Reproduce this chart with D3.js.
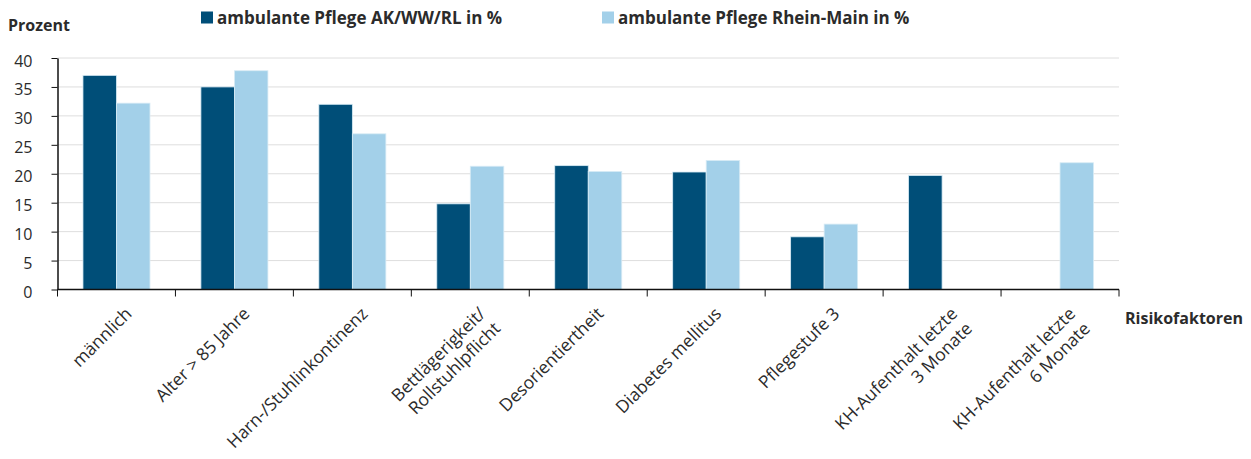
<!DOCTYPE html>
<html>
<head>
<meta charset="utf-8">
<script src="https://cdn.jsdelivr.net/npm/d3@7"></script>
<style>
  body { margin: 0; background: #fff; }
  text { font-family: "Open Sans", Lato, sans-serif; fill: #2b2b2b; }
</style>
</head>
<body>
<script>
const categories = [
  ["männlich"],
  ["Alter > 85 Jahre"],
  ["Harn-/Stuhlinkontinenz"],
  ["Bettlägerigkeit/", "Rollstuhlpflicht"],
  ["Desorientiertheit"],
  ["Diabetes mellitus"],
  ["Pflegestufe 3"],
  ["KH-Aufenthalt letzte", "3 Monate"],
  ["KH-Aufenthalt letzte", "6 Monate"]
];
const seriesNames = ["ambulante Pflege AK/WW/RL in %", "ambulante Pflege Rhein-Main in %"];
const akValues = [37.0, 35.0, 32.0, 14.8, 21.4, 20.3, 9.1, 19.7, null];
const rmValues = [32.2, 37.8, 26.9, 21.3, 20.4, 22.3, 11.3, null, 21.9];
const yTicks = [0, 5, 10, 15, 20, 25, 30, 35, 40];
const colors = ["#004e78", "#a3d0e9"];

const width = 1251, height = 459;
const margin = { left: 57.5, right: 132, top: 58, bottom: 169.5 };

const svg = d3.select("body").append("svg")
  .attr("width", width).attr("height", height);

const x = d3.scaleBand()
  .domain(d3.range(categories.length))
  .range([margin.left, width - margin.right])
  .paddingInner(0).paddingOuter(0);

const xInner = d3.scaleBand()
  .domain([0, 1])
  .range([0, x.bandwidth()])
  .paddingOuter(0.76).paddingInner(0);

const y = d3.scaleLinear()
  .domain([0, 40])
  .range([height - margin.bottom, margin.top]);

// gridlines
svg.append("g")
  .selectAll("line")
  .data(yTicks.slice(1))
  .join("line")
  .attr("x1", margin.left).attr("x2", width - margin.right)
  .attr("y1", d => y(d)).attr("y2", d => y(d))
  .attr("stroke", "#dedede").attr("stroke-width", 1);

// bars
const series = [akValues, rmValues];
series.forEach((vals, si) => {
  svg.append("g")
    .selectAll("rect")
    .data(vals.map((v, i) => ({ v, i })).filter(d => d.v != null))
    .join("rect")
    .attr("x", d => x(d.i) + xInner(si))
    .attr("y", d => y(d.v))
    .attr("width", xInner.bandwidth())
    .attr("height", d => y(0) - y(d.v))
    .attr("fill", colors[si])
    .attr("stroke", "#d8ebf5").attr("stroke-width", 0.8);
});

// y axis
const yAxis = svg.append("g")
  .attr("transform", `translate(${margin.left},0)`)
  .call(d3.axisLeft(y).tickValues(yTicks).tickSize(6).tickPadding(19).tickSizeOuter(0));
yAxis.select(".domain").attr("stroke", "#111").attr("stroke-width", 1.5);
yAxis.selectAll(".tick line").attr("stroke", "#111");
yAxis.selectAll(".tick text")
  .attr("dy", "0.5em")
  .style("font-size", "16px")
  .attr("fill", "#2b2b2b")
  .style("font-family", "'Open Sans', sans-serif");

// x axis
const xTickPos = d3.range(categories.length + 1).map(i => margin.left + i * x.step());
const xg = svg.append("g");
xg.append("line")
  .attr("x1", margin.left).attr("x2", width - margin.right)
  .attr("y1", y(0)).attr("y2", y(0))
  .attr("stroke", "#111").attr("stroke-width", 1.5);
xg.selectAll("line.t")
  .data(xTickPos)
  .join("line").attr("class", "t")
  .attr("x1", d => d).attr("x2", d => d)
  .attr("y1", y(0)).attr("y2", y(0) + 7)
  .attr("stroke", "#111");

// x labels
const labels = svg.append("g")
  .selectAll("text")
  .data(categories)
  .join("text")
  .attr("transform", (d, i) => `translate(${x(i) + x.bandwidth() / 2 + 12},${y(0) + 21}) rotate(-45)`)
  .attr("text-anchor", "end")
  .style("font-size", "17.5px");
labels.selectAll("tspan")
  .data(d => d.map((t, k) => ({ t, k })))
  .join("tspan")
  .attr("x", 0)
  .attr("dy", d => d.k === 0 ? "0.35em" : "1.2em")
  .text(d => d.t);

// axis titles
svg.append("text")
  .attr("x", 8).attr("y", 31)
  .style("font-size", "16px").style("font-weight", "bold")
  .text("Prozent");
svg.append("text")
  .attr("x", 1125).attr("y", 324)
  .style("font-size", "16px").style("font-weight", "bold")
  .text("Risikofaktoren");

// legend
const legendX = [201, 602];
seriesNames.forEach((name, i) => {
  svg.append("rect")
    .attr("x", legendX[i]).attr("y", 11.5)
    .attr("width", 12).attr("height", 12)
    .attr("fill", colors[i]);
  svg.append("text")
    .attr("x", legendX[i] + 16).attr("y", 24)
    .style("font-size", "17px").style("font-weight", "bold")
    .text(name);
});
</script>
</body>
</html>
